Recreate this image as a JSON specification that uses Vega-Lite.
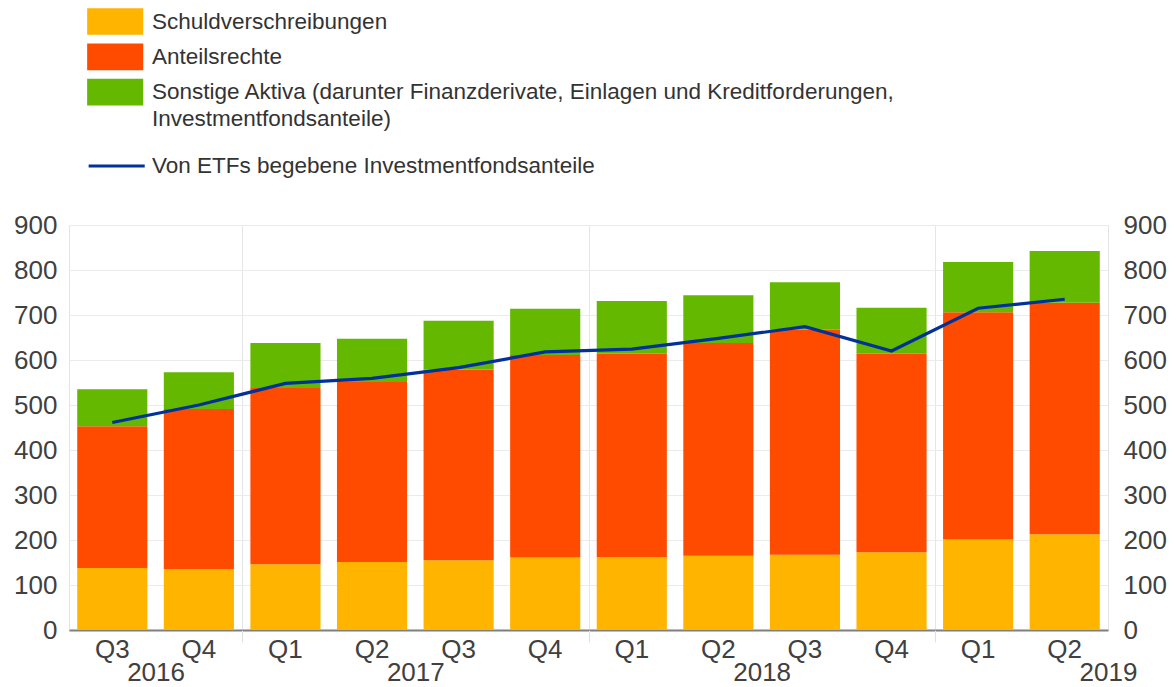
{
  "$schema": "https://vega.github.io/schema/vega-lite/v6.json",
  "width": 1039,
  "height": 405,
  "autosize": {"type": "none"},
  "padding": {"left": 69, "top": 225, "right": 68, "bottom": 57},
  "background": "white",
  "config": {
    "font": "Liberation Sans",
    "view": {"stroke": "#e3e3e3", "strokeWidth": 1},
    "axis": {"labelFont": "Liberation Sans", "labelFontSize": 26, "labelColor": "#404040", "title": null, "gridColor": "#ebebeb", "gridWidth": 1},
    "legend": {"labelFont": "Liberation Sans", "labelFontSize": 22.5, "labelColor": "#333333", "labelLimit": 0, "padding": 0}
  },
  "datasets": {
    "bestand": [
      {"quartal": "2016Q3", "kategorie": "Schuldverschreibungen", "rang": 1, "wert": 138},
      {"quartal": "2016Q3", "kategorie": "Anteilsrechte", "rang": 2, "wert": 315},
      {"quartal": "2016Q3", "kategorie": "Sonstige Aktiva", "rang": 3, "wert": 82},
      {"quartal": "2016Q4", "kategorie": "Schuldverschreibungen", "rang": 1, "wert": 135},
      {"quartal": "2016Q4", "kategorie": "Anteilsrechte", "rang": 2, "wert": 356},
      {"quartal": "2016Q4", "kategorie": "Sonstige Aktiva", "rang": 3, "wert": 82},
      {"quartal": "2017Q1", "kategorie": "Schuldverschreibungen", "rang": 1, "wert": 146},
      {"quartal": "2017Q1", "kategorie": "Anteilsrechte", "rang": 2, "wert": 392},
      {"quartal": "2017Q1", "kategorie": "Sonstige Aktiva", "rang": 3, "wert": 100},
      {"quartal": "2017Q2", "kategorie": "Schuldverschreibungen", "rang": 1, "wert": 151},
      {"quartal": "2017Q2", "kategorie": "Anteilsrechte", "rang": 2, "wert": 400},
      {"quartal": "2017Q2", "kategorie": "Sonstige Aktiva", "rang": 3, "wert": 96},
      {"quartal": "2017Q3", "kategorie": "Schuldverschreibungen", "rang": 1, "wert": 155},
      {"quartal": "2017Q3", "kategorie": "Anteilsrechte", "rang": 2, "wert": 424},
      {"quartal": "2017Q3", "kategorie": "Sonstige Aktiva", "rang": 3, "wert": 108},
      {"quartal": "2017Q4", "kategorie": "Schuldverschreibungen", "rang": 1, "wert": 161},
      {"quartal": "2017Q4", "kategorie": "Anteilsrechte", "rang": 2, "wert": 450},
      {"quartal": "2017Q4", "kategorie": "Sonstige Aktiva", "rang": 3, "wert": 103},
      {"quartal": "2018Q1", "kategorie": "Schuldverschreibungen", "rang": 1, "wert": 162},
      {"quartal": "2018Q1", "kategorie": "Anteilsrechte", "rang": 2, "wert": 452},
      {"quartal": "2018Q1", "kategorie": "Sonstige Aktiva", "rang": 3, "wert": 117},
      {"quartal": "2018Q2", "kategorie": "Schuldverschreibungen", "rang": 1, "wert": 165},
      {"quartal": "2018Q2", "kategorie": "Anteilsrechte", "rang": 2, "wert": 473},
      {"quartal": "2018Q2", "kategorie": "Sonstige Aktiva", "rang": 3, "wert": 106},
      {"quartal": "2018Q3", "kategorie": "Schuldverschreibungen", "rang": 1, "wert": 167},
      {"quartal": "2018Q3", "kategorie": "Anteilsrechte", "rang": 2, "wert": 500},
      {"quartal": "2018Q3", "kategorie": "Sonstige Aktiva", "rang": 3, "wert": 106},
      {"quartal": "2018Q4", "kategorie": "Schuldverschreibungen", "rang": 1, "wert": 173},
      {"quartal": "2018Q4", "kategorie": "Anteilsrechte", "rang": 2, "wert": 441},
      {"quartal": "2018Q4", "kategorie": "Sonstige Aktiva", "rang": 3, "wert": 102},
      {"quartal": "2019Q1", "kategorie": "Schuldverschreibungen", "rang": 1, "wert": 201},
      {"quartal": "2019Q1", "kategorie": "Anteilsrechte", "rang": 2, "wert": 505},
      {"quartal": "2019Q1", "kategorie": "Sonstige Aktiva", "rang": 3, "wert": 112},
      {"quartal": "2019Q2", "kategorie": "Schuldverschreibungen", "rang": 1, "wert": 213},
      {"quartal": "2019Q2", "kategorie": "Anteilsrechte", "rang": 2, "wert": 514},
      {"quartal": "2019Q2", "kategorie": "Sonstige Aktiva", "rang": 3, "wert": 115}
    ],
    "etf": [
      {"quartal": "2016Q3", "reihe": "Von ETFs begebene Investmentfondsanteile", "wert": 461},
      {"quartal": "2016Q4", "reihe": "Von ETFs begebene Investmentfondsanteile", "wert": 500},
      {"quartal": "2017Q1", "reihe": "Von ETFs begebene Investmentfondsanteile", "wert": 548},
      {"quartal": "2017Q2", "reihe": "Von ETFs begebene Investmentfondsanteile", "wert": 559},
      {"quartal": "2017Q3", "reihe": "Von ETFs begebene Investmentfondsanteile", "wert": 583},
      {"quartal": "2017Q4", "reihe": "Von ETFs begebene Investmentfondsanteile", "wert": 618},
      {"quartal": "2018Q1", "reihe": "Von ETFs begebene Investmentfondsanteile", "wert": 624},
      {"quartal": "2018Q2", "reihe": "Von ETFs begebene Investmentfondsanteile", "wert": 648},
      {"quartal": "2018Q3", "reihe": "Von ETFs begebene Investmentfondsanteile", "wert": 674},
      {"quartal": "2018Q4", "reihe": "Von ETFs begebene Investmentfondsanteile", "wert": 620},
      {"quartal": "2019Q1", "reihe": "Von ETFs begebene Investmentfondsanteile", "wert": 715},
      {"quartal": "2019Q2", "reihe": "Von ETFs begebene Investmentfondsanteile", "wert": 735}
    ]
  },
  "layer": [
    {
      "layer": [
        {
          "data": {"name": "bestand"},
          "mark": {"type": "bar"},
          "encoding": {
            "x": {
              "field": "quartal", "type": "nominal",
              "sort": ["2016Q3","2016Q4","2017Q1","2017Q2","2017Q3","2017Q4","2018Q1","2018Q2","2018Q3","2018Q4","2019Q1","2019Q2"],
              "scale": {"paddingInner": 0.19, "paddingOuter": 0.095},
              "axis": {"labelExpr": "substring(datum.label, 4, 6)", "labelAngle": 0, "ticks": false, "tickSize": 0, "labelPadding": 6, "domainColor": "#7f7f7f", "domainWidth": 2, "grid": false, "title": null}
            },
            "y": {
              "field": "wert", "type": "quantitative", "stack": "zero",
              "scale": {"domain": [0, 900], "nice": false},
              "axis": {"values": [0,100,200,300,400,500,600,700,800,900], "ticks": false, "tickSize": 0, "labelPadding": 12, "domain": false, "grid": true, "title": null}
            },
            "order": {"field": "rang", "type": "ordinal", "sort": "ascending"},
            "color": {
              "field": "kategorie", "type": "nominal",
              "scale": {"domain": ["Schuldverschreibungen", "Anteilsrechte", "Sonstige Aktiva"], "range": ["#FFB400", "#FF4B00", "#65B800"]},
              "legend": {
                "orient": "none", "legendX": 18, "legendY": -217, "title": null,
                "symbolType": "M-1,-1H3.2V1H-1Z", "symbolSize": 713, "symbolStrokeWidth": 0, "symbolOpacity": 1,
                "labelOffset": 38, "rowPadding": 8.3,
                "labelExpr": "datum.label == 'Sonstige Aktiva' ? ['Sonstige Aktiva (darunter Finanzderivate, Einlagen und Kreditforderungen,', 'Investmentfondsanteile)'] : datum.label",
                "encode": {"labels": {"update": {"lineHeight": {"value": 27}}}}
              }
            }
          }
        },
        {
          "data": {"name": "etf"},
          "mark": {"type": "line", "strokeWidth": 3.2},
          "encoding": {
            "x": {
              "field": "quartal", "type": "nominal",
              "sort": ["2016Q3","2016Q4","2017Q1","2017Q2","2017Q3","2017Q4","2018Q1","2018Q2","2018Q3","2018Q4","2019Q1","2019Q2"],
              "scale": {"paddingInner": 0.19, "paddingOuter": 0.095}
            },
            "y": {
              "field": "wert", "type": "quantitative",
              "scale": {"domain": [0, 900], "nice": false},
              "axis": {"orient": "right", "values": [0,100,200,300,400,500,600,700,800,900], "ticks": false, "tickSize": 0, "labelPadding": 15, "domain": false, "grid": false, "title": null}
            },
            "stroke": {
              "field": "reihe", "type": "nominal",
              "scale": {"range": ["#003299"]},
              "legend": {
                "orient": "none", "legendX": 18, "legendY": -74, "title": null,
                "symbolType": "M-1,0H3.2", "symbolSize": 713, "symbolStrokeWidth": 3,
                "labelOffset": 35
              }
            }
          }
        }
      ],
      "resolve": {"scale": {"y": "independent"}}
    },
    {
      "data": {"name": "etf"},
      "mark": {"type": "rule", "opacity": 0},
      "encoding": {
        "x": {
          "datum": 0, "type": "quantitative",
          "scale": {"domain": [0, 12], "nice": false, "zero": false},
          "axis": {
            "orient": "bottom", "values": [1, 2, 4, 6, 8, 10, 12],
            "labelExpr": "datum.value == 1 ? '2016' : datum.value == 4 ? '2017' : datum.value == 8 ? '2018' : datum.value == 12 ? '2019' : ''",
            "domain": false, "grid": true,
            "gridColor": "#e6e6e6",
            "gridOpacity": {"condition": {"test": "datum.value == 2 || datum.value == 6 || datum.value == 10", "value": 1}, "value": 0},
            "tickOpacity": {"condition": {"test": "datum.value == 2 || datum.value == 6 || datum.value == 10", "value": 1}, "value": 0},
            "tickSize": 12, "tickColor": "#e0e0e0",
            "labelPadding": 17, "labelFlush": false, "labelOverlap": false, "labelBound": false, "title": null
          }
        }
      }
    }
  ],
  "resolve": {"scale": {"x": "independent", "y": "independent"}}
}
